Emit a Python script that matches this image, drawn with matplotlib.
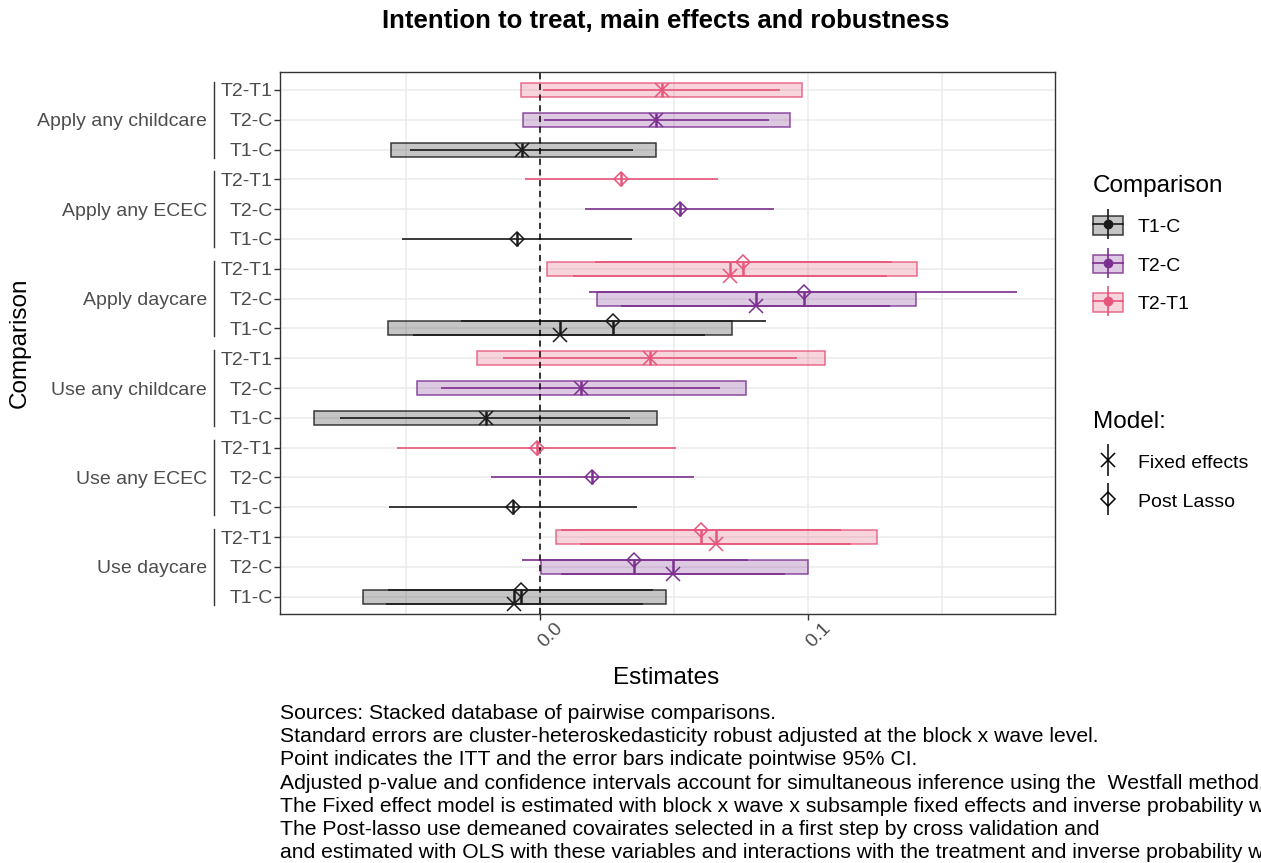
import numpy as np
import matplotlib
matplotlib.use("Agg")
import matplotlib.pyplot as plt
import matplotlib.transforms as mtransforms
from matplotlib.colors import to_rgba
from matplotlib.patches import Patch
from matplotlib.lines import Line2D

plt.rcParams['font.family'] = ['Liberation Sans', 'DejaVu Sans']

nan = np.nan

outcomes = ["Apply any childcare", "Apply any ECEC", "Apply daycare",
            "Use any childcare", "Use any ECEC", "Use daycare"]
comparisons = ["T2-T1", "T2-C", "T1-C"]   # top to bottom inside each outcome

# Fixed effects model: ITT, pointwise 95% CI, Westfall adjusted CI
fe_est = [[0.0455, 0.0433, -0.0067], [nan, nan, nan], [0.0709, 0.0806, 0.0075],
          [0.0410, 0.0153, -0.0201], [nan, nan, nan], [0.0657, 0.0496, -0.0097]]
fe_lo = [[0.0011, 0.0015, -0.0485], [nan, nan, nan], [0.0123, 0.0302, -0.0474],
         [-0.0138, -0.0369, -0.0746], [nan, nan, nan], [0.0149, 0.0078, -0.0575]]
fe_hi = [[0.0896, 0.0854, 0.0347], [nan, nan, nan], [0.1295, 0.1306, 0.0616],
         [0.0959, 0.0672, 0.0336], [nan, nan, nan], [0.1160, 0.0914, 0.0384]]
fe_adj_lo = [[-0.0071, -0.0063, -0.0556], [nan, nan, nan], [0.0026, 0.0213, -0.0567],
             [-0.0235, -0.0459, -0.0843], [nan, nan, nan], [0.0060, 0.0004, -0.0660]]
fe_adj_hi = [[0.0978, 0.0933, 0.0433], [nan, nan, nan], [0.1407, 0.1403, 0.0716],
             [0.1063, 0.0769, 0.0437], [nan, nan, nan], [0.1257, 0.1000, 0.0470]]

# Post lasso model: ITT and pointwise 95% CI
pl_est = [[nan, nan, nan], [0.0302, 0.0522, -0.0086], [0.0757, 0.0985, 0.0272],
          [nan, nan, nan], [-0.0011, 0.0194, -0.0101], [0.0601, 0.0351, -0.0071]]
pl_lo = [[nan, nan, nan], [-0.0056, 0.0168, -0.0515], [0.0205, 0.0183, -0.0295],
         [nan, nan, nan], [-0.0534, -0.0183, -0.0563], [0.0078, -0.0067, -0.0567]]
pl_hi = [[nan, nan, nan], [0.0664, 0.0873, 0.0343], [0.1313, 0.1780, 0.0843],
         [nan, nan, nan], [0.0507, 0.0575, 0.0362], [0.1123, 0.0776, 0.0422]]

colors = {"T1-C": "#1a1a1a", "T2-C": "#7b2f8e", "T2-T1": "#e6557a"}

caption = ("Sources: Stacked database of pairwise comparisons.\n"
           "Standard errors are cluster-heteroskedasticity robust adjusted at the block x wave level.\n"
           "Point indicates the ITT and the error bars indicate pointwise 95% CI.\n"
           "Adjusted p-value and confidence intervals account for simultaneous inference using the  Westfall method.\n"
           "The Fixed effect model is estimated with block x wave x subsample fixed effects and inverse probability weights.\n"
           "The Post-lasso use demeaned covairates selected in a first step by cross validation and\n"
           "and estimated with OLS with these variables and interactions with the treatment and inverse probability weights.")

W, H = 1261, 863
fig = plt.figure(figsize=(W / 100, H / 100), dpi=100)
ax = fig.add_axes([280 / W, 1 - 614 / H, 775 / W, 542 / H])

n_rows = len(outcomes) * len(comparisons)
ytick_pos, ytick_lab = [], []
half = 0.235
for g, outc in enumerate(outcomes):
    for c, comp in enumerate(comparisons):
        y = n_rows - 1 - (3 * g + c)
        ytick_pos.append(y)
        ytick_lab.append(comp)
        col = colors[comp]
        has_fe = not np.isnan(fe_est[g][c])
        has_pl = not np.isnan(pl_est[g][c])
        off = half if (has_fe and has_pl) else 0.0
        if has_fe:
            ax.barh(y, fe_adj_hi[g][c] - fe_adj_lo[g][c], left=fe_adj_lo[g][c], height=2 * half,
                    facecolor=to_rgba(col, 0.25), edgecolor=to_rgba(col, 0.85), lw=1.1, zorder=2)
            ax.hlines(y - off, fe_lo[g][c], fe_hi[g][c], color=col, lw=1.2, zorder=3)
            ax.vlines(fe_est[g][c], y - half, y + half, color=col, lw=1.8, zorder=4)
            ax.plot(fe_est[g][c], y - off, ls='none', marker='x', ms=10, mew=1.1, color=col, zorder=5)
        if has_pl:
            ax.hlines(y + off, pl_lo[g][c], pl_hi[g][c], color=col, lw=1.2, zorder=3)
            ax.vlines(pl_est[g][c], y - half, y + half, color=col, lw=1.8, zorder=4)
            ax.plot(pl_est[g][c], y + off, ls='none', marker='D', ms=7.5, mew=1.1,
                    mfc='none', mec=col, zorder=5)

ax.axvline(0, color='black', lw=1.1, ls=(0, (4, 3)), zorder=4.5)

ax.set_xlim(-0.097, 0.1922)
ax.set_ylim(-0.58, n_rows - 1 + 0.6)
ax.set_xticks([0.0, 0.1])
ax.set_xticklabels(["0.0", "0.1"])
ax.set_xticks([-0.05, 0.05, 0.15], minor=True)
ax.set_yticks(ytick_pos)
ax.set_yticklabels(ytick_lab)
ax.grid(which='both', color='#ebebeb', lw=1.1)
ax.set_axisbelow(True)
ax.tick_params(axis='both', which='major', labelsize=14, labelcolor='#4d4d4d',
               color='#333333', length=4, width=1)
ax.tick_params(axis='y', pad=1)
ax.tick_params(axis='x', pad=2)
ax.tick_params(which='minor', length=0)
for s in ax.spines.values():
    s.set_color('#333333')
    s.set_linewidth(1)

shift = mtransforms.ScaledTranslation(0.11, 0.03, fig.dpi_scale_trans)
for lab in ax.get_xticklabels():
    lab.set_rotation(45)
    lab.set_ha('center')
    lab.set_va('top')
    lab.set_transform(lab.get_transform() + shift)

# outcome group labels with brackets
ytr = ax.get_yaxis_transform()
for g, outc in enumerate(outcomes):
    ytop = n_rows - 1 - 3 * g
    ybot = ytop - 2
    ax.plot([-66 / 775, -66 / 775], [ytop + 0.27, ybot - 0.27], transform=ytr,
            color='#333333', lw=1, clip_on=False)
    ax.text(-73 / 775, ytop - 1, outc, transform=ytr, ha='right', va='center_baseline',
            fontsize=14, color='#4d4d4d')

fig.text(666 / W, 1 - 21 / H, "Intention to treat, main effects and robustness",
         ha='center', va='center', fontsize=18.5, fontweight='bold')
fig.text(666 / W, 1 - 678 / H, "Estimates", ha='center', va='center', fontsize=17.5)
fig.text(20 / W, 1 - 343 / H, "Comparison", ha='center', va='center',
         rotation=90, fontsize=17.5)
fig.text(280 / W, 1 - 704 / H, caption, ha='left', va='top', fontsize=15.25, linespacing=1.28)

# legends
comp_handles = []
for comp in ["T1-C", "T2-C", "T2-T1"]:
    col = colors[comp]
    comp_handles.append((Patch(facecolor=to_rgba(col, 0.25), edgecolor=to_rgba(col, 0.85), lw=1.1),
                         Line2D([], [], color=col, lw=1.2, marker='o', ms=6),
                         Line2D([], [], color=col, ls='none', marker='|', ms=21, mew=1.2)))
leg1 = fig.legend(comp_handles, ["T1-C", "T2-C", "T2-T1"], title="Comparison",
                  loc='upper left', bbox_to_anchor=(1093 / W, 1 - 175 / H),
                  frameon=False, fontsize=14, title_fontsize=17.5, alignment='left',
                  handlelength=1.55, handleheight=1.1, labelspacing=0.97,
                  handletextpad=0.75, borderpad=0, borderaxespad=0)

model_handles = [(Line2D([], [], color='black', ls='none', marker='x', ms=10, mew=1.1),
                  Line2D([], [], color='black', ls='none', marker='|', ms=23, mew=1.1)),
                 (Line2D([], [], color='black', ls='none', marker='D', ms=7.5, mew=1.1, mfc='none'),
                  Line2D([], [], color='black', ls='none', marker='|', ms=23, mew=1.1))]
leg2 = fig.legend(model_handles, ["Fixed effects", "Post Lasso"], title="Model:",
                  loc='upper left', bbox_to_anchor=(1093 / W, 1 - 411 / H),
                  frameon=False, fontsize=14, title_fontsize=17.5, alignment='left',
                  handlelength=1.55, handleheight=1.1, labelspacing=0.97,
                  handletextpad=0.75, borderpad=0, borderaxespad=0)

fig.savefig("out.png", dpi=100)
